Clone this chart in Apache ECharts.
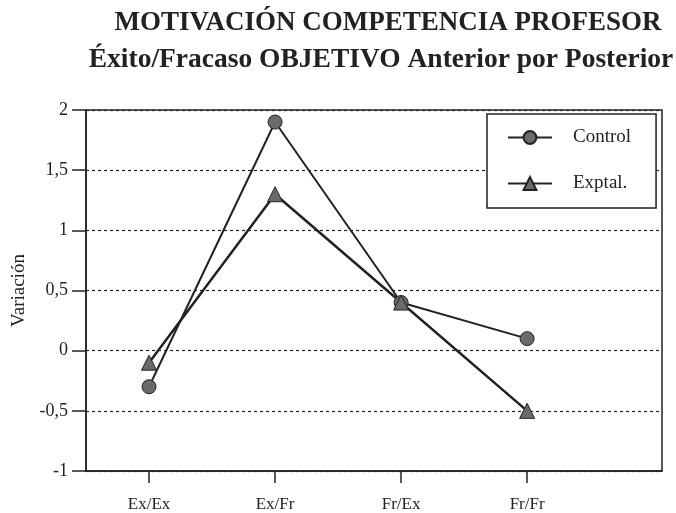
<!DOCTYPE html>
<html>
<head>
<meta charset="utf-8">
<script src="https://cdn.jsdelivr.net/npm/echarts@6/dist/echarts.min.js"></script>
<style>
  html, body { margin: 0; padding: 0; background: #fff; }
  #chart { width: 676px; height: 513px; }
</style>
</head>
<body>
<div id="chart"></div>
<script>
// Categories (anterior/posterior outcome) and mean change per group
const categories = ['Ex/Ex', 'Ex/Fr', 'Fr/Ex', 'Fr/Fr'];
const controlValues = [-0.3, 1.9, 0.4, 0.1];
const exptalValues = [-0.1, 1.3, 0.4, -0.5];
const yTicks = [-1, -0.5, 0, 0.5, 1, 1.5, 2];

const positions = categories.map((_, i) => i + 1);
const toPoints = vals => vals.map((v, i) => [positions[i], v]);

const serif = '"Liberation Serif", "Times New Roman", serif';
const ink = '#222';

const chart = echarts.init(document.getElementById('chart'));
chart.setOption({
  backgroundColor: '#fff',
  animation: false,
  title: [
    {
      text: 'MOTIVACIÓN COMPETENCIA PROFESOR',
      left: 383, top: 5, textAlign: 'center',
      textStyle: { fontFamily: serif, fontWeight: 'bold', fontSize: 27, color: ink }
    },
    {
      text: 'Éxito/Fracaso OBJETIVO Anterior por Posterior',
      left: 376, top: 41, textAlign: 'center',
      textStyle: { fontFamily: serif, fontWeight: 'bold', fontSize: 27.5, color: ink }
    }
  ],
  legend: {
    orient: 'vertical',
    left: 487, top: 114,
    padding: [14, 25, 15, 20],
    itemGap: 27,
    itemWidth: 44, itemHeight: 16,
    borderColor: ink, borderWidth: 1.5,
    backgroundColor: '#fff',
    textStyle: { fontFamily: serif, fontSize: 19, lineHeight: 16, color: ink, padding: [0, 0, 0, 16] },
    data: ['Control', 'Exptal.']
  },
  grid: {
    left: 86, right: 14, top: 110, bottom: 39,
    show: true, borderColor: ink, borderWidth: 1.5
  },
  xAxis: {
    type: 'value',
    min: 0.5, max: 5.07,
    axisLine: { show: true, onZero: false, lineStyle: { color: ink, width: 1.5 } },
    axisTick: { show: true, customValues: positions, length: 12, lineStyle: { color: ink, width: 1.5 } },
    axisLabel: {
      customValues: positions, margin: 25,
      fontFamily: serif, fontSize: 17, color: ink,
      formatter: v => categories[Math.round(v) - 1] || ''
    },
    splitLine: { show: false }
  },
  yAxis: {
    type: 'value',
    min: yTicks[0], max: yTicks[yTicks.length - 1], interval: 0.5,
    name: 'Variación', nameLocation: 'middle', nameGap: 55, nameRotate: 90,
    nameTextStyle: { fontFamily: serif, fontSize: 19, color: ink },
    axisLine: { show: true, lineStyle: { color: ink, width: 1.5 } },
    axisTick: { show: true, inside: false, length: 14, lineStyle: { color: ink, width: 1.5 } },
    axisLabel: {
      margin: 18, fontFamily: serif, fontSize: 18, color: ink,
      formatter: v => String(v).replace('.', ',')
    },
    splitLine: { show: true, lineStyle: { color: ink, type: [3, 3], width: 1.2 } }
  },
  series: [
    {
      name: 'Control', type: 'line',
      data: toPoints(controlValues),
      symbol: 'circle', symbolSize: 14,
      lineStyle: { color: ink, width: 2 },
      itemStyle: { color: '#6a6a6a', borderColor: ink, borderWidth: 1 },
      z: 3
    },
    {
      name: 'Exptal.', type: 'line',
      data: toPoints(exptalValues),
      symbol: 'triangle', symbolSize: 15,
      lineStyle: { color: ink, width: 2.5 },
      itemStyle: { color: '#6a6a6a', borderColor: ink, borderWidth: 1 },
      z: 3
    }
  ]
});
</script>
</body>
</html>
